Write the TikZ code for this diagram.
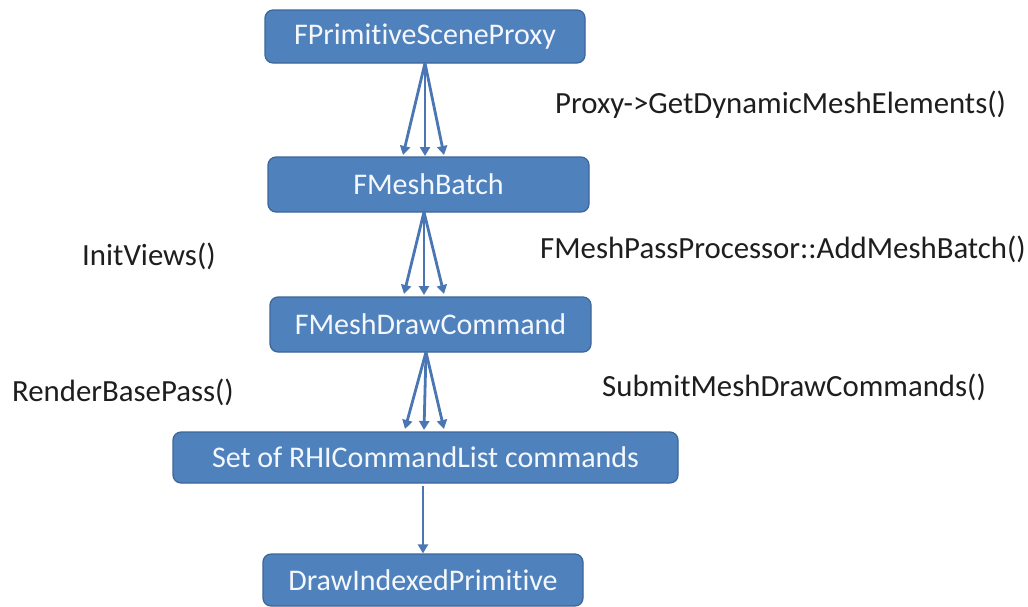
\documentclass[tikz,border=0pt]{standalone}
\usepackage{fontspec}
\setmainfont[Ligatures=NoCommon]{Carlito}
\usetikzlibrary{arrows.meta}
\definecolor{boxfill}{HTML}{4F81BD}
\definecolor{boxline}{HTML}{3C6699}
\definecolor{arrowc}{HTML}{4A76B4}
\definecolor{labelc}{HTML}{1E1E1E}
\definecolor{boxtext}{HTML}{F4F8FC}
\begin{document}
\begin{tikzpicture}[x=1pt,y=-1pt,
  box/.style={draw=boxline, line width=1.2pt, fill=boxfill, rounded corners=8pt,
    text=boxtext, font=\fontsize{30}{34}\selectfont, inner sep=0pt, anchor=center},
  lbl/.style={text=labelc, font=\fontsize{30.8}{35}\selectfont, inner sep=0pt, anchor=west},
  conn/.style={draw=arrowc, line width=2.8pt, -{Triangle[width=10pt,length=9pt]}}]
\useasboundingbox (0,0) rectangle (1028,606);
\fill[white] (0,0) rectangle (1028,606);
% boxes
\node[box, minimum width=320pt, minimum height=53pt] (b1) at (425,36.5) {FPrimitiveSceneProxy};
\node[box, minimum width=321pt, minimum height=55pt] (b2) at (428.5,184.5) {FMeshBatch};
\node[box, minimum width=321pt, minimum height=55pt] (b3) at (430.5,324.5) {FMeshDrawCommand};
\node[box, minimum width=505pt, minimum height=51pt] (b4) at (425.5,457.5) {Set of RHICommandList commands};
\node[box, minimum width=320pt, minimum height=52pt] (b5) at (423,580) {DrawIndexedPrimitive};
% arrow end points
\coordinate (e1a) at (403,155);
\coordinate (e1b) at (425,156);
\coordinate (e1c) at (444,155);
\coordinate (e2a) at (404,294);
\coordinate (e2b) at (424,295);
\coordinate (e2c) at (444,294);
\coordinate (e3a) at (405,429);
\coordinate (e3b) at (424,430);
\coordinate (e3c) at (444,429);
\coordinate (s1) at (425,63);
\coordinate (s2) at (424,212);
\coordinate (s3) at (426,352);
% fan arrows
\draw[conn] (s1) -- (e1a);
\draw[conn] (s1) -- (e1b);
\draw[conn] (s1) -- (e1c);
\draw[conn] (s2) -- (e2a);
\draw[conn] (s2) -- (e2b);
\draw[conn] (s2) -- (e2c);
\draw[conn] (s3) -- (e3a);
\draw[conn] (s3) -- (e3b);
\draw[conn] (s3) -- (e3c);
\draw[conn] (b4.south -| b5.north) ++(0,2) coordinate (s4) (s4) -- (b5.north);
% labels
\node[lbl] (l1) at (555,105) {Proxy->GetDynamicMeshElements()};
\node[lbl] (l2) at (82,256) {InitViews()};
\node[lbl] (l3) at (540,249) {FMeshPassProcessor::AddMeshBatch()};
\node[lbl] (l4) at (12,392) {RenderBasePass()};
\node[lbl] (l5) at (602,387) {SubmitMeshDrawCommands()};
\end{tikzpicture}
\end{document}
